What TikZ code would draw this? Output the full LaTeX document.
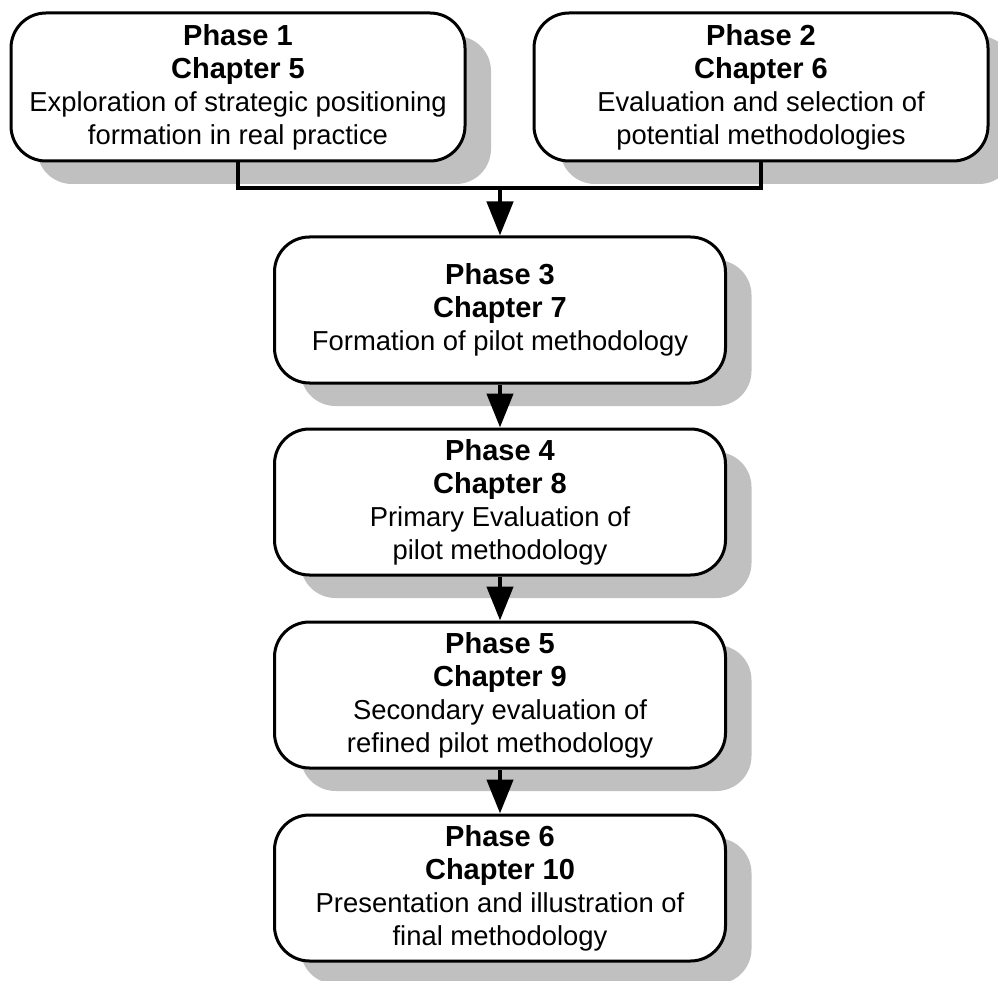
\documentclass[tikz,border=0pt]{standalone}
\usepackage{fontspec}
\setmainfont{Liberation Sans}
\usetikzlibrary{arrows.meta,shadows}
\definecolor{shadowgray}{RGB}{192,192,192}
% bold heading lines of each phase box
\newcommand\phasehead[1]{{\fontsize{29}{33}\selectfont\bfseries #1}}
\begin{document}
\begin{tikzpicture}[x=1pt,y=-1pt,
  phasebox/.style={draw=black, line width=3pt, fill=white, rounded corners=35pt,
    inner sep=0pt, align=center, font=\fontsize{27.4}{33}\selectfont,
    drop shadow={shadow xshift=26pt, shadow yshift=-23pt, fill=shadowgray, opacity=1}},
  wide/.style={minimum width=454pt, minimum height=148pt},
  mid/.style={minimum width=451pt, minimum height=146pt},
  link/.style={line width=4.5pt},
  flow/.style={link, -{Triangle[length=34pt,width=26pt]}}]
\useasboundingbox (0,0) rectangle (998,981);

% the two starting phases
\node[phasebox, wide] (p1) at (238,87)
  {\phasehead{Phase 1}\\\phasehead{Chapter 5}\\Exploration of strategic positioning\\formation in real practice};
\node[phasebox, wide] (p2) at (761,87)
  {\phasehead{Phase 2}\\\phasehead{Chapter 6}\\Evaluation and selection of\\potential methodologies};

% the sequential phases
\node[phasebox, mid] (p3) at (500,310)
  {\phasehead{Phase 3}\\\phasehead{Chapter 7}\\Formation of pilot methodology};
\node[phasebox, mid] (p4) at (500,502)
  {\phasehead{Phase 4}\\\phasehead{Chapter 8}\\Primary Evaluation of\\pilot methodology};
\node[phasebox, mid] (p5) at (500,695)
  {\phasehead{Phase 5}\\\phasehead{Chapter 9}\\Secondary evaluation of\\refined pilot methodology};
\node[phasebox, mid] (p6) at (500,888)
  {\phasehead{Phase 6}\\\phasehead{Chapter 10}\\Presentation and illustration of\\final methodology};

% merge of phases 1 and 2 into phase 3
\coordinate (join) at (500,188);
\draw[link] (p1.south) |- (join) -| (p2.south);
\draw[flow] (join) -- (p3.north);

% chain of phases
\draw[flow] (p3.south) -- (p4.north);
\draw[flow] (p4.south) -- (p5.north);
\draw[flow] (p5.south) -- (p6.north);
\end{tikzpicture}
\end{document}
